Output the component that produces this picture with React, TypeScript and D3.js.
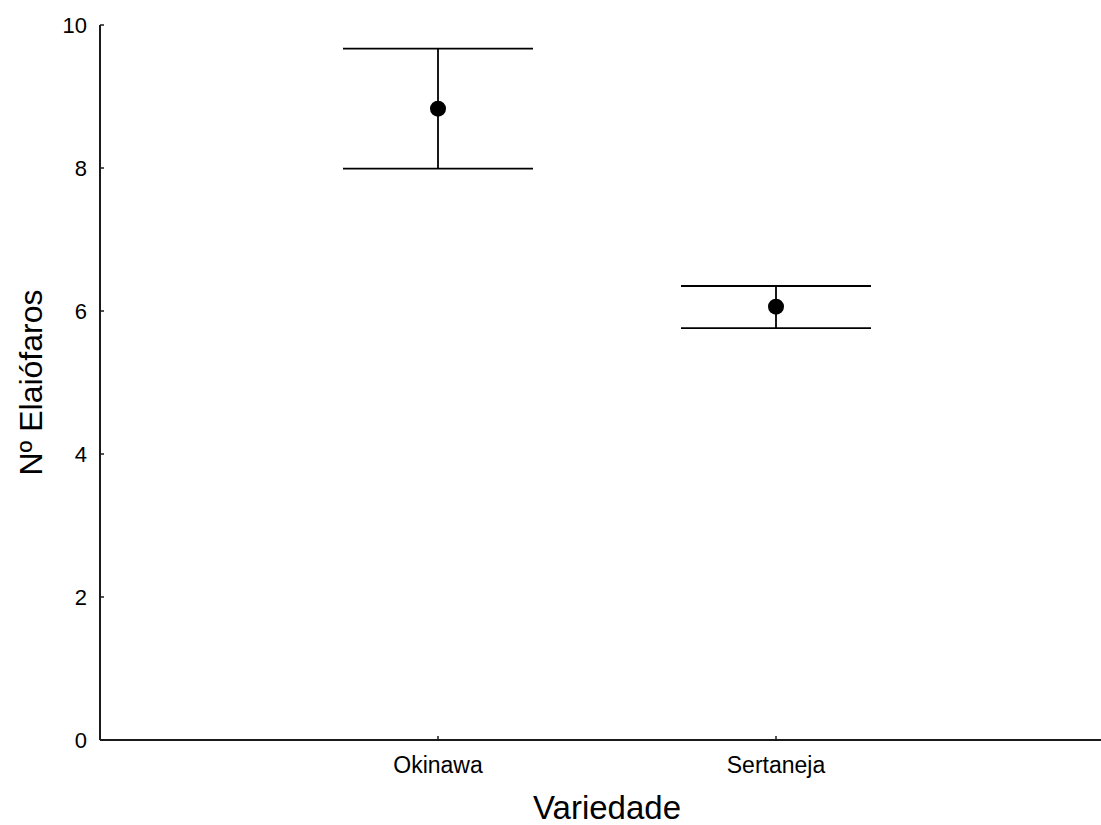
import React from "react";
import * as d3 from "d3";

const categories = ["Okinawa", "Sertaneja"];
const means = [8.83, 6.06];
const upper = [9.67, 6.35];
const lower = [7.99, 5.76];
const yTicks = [0, 2, 4, 6, 8, 10];
const xTitle = "Variedade";
const yTitle = "Nº Elaiófaros";

const W = 1101;
const H = 825;
const left = 100;
const right = 1114;
const top = 25;
const bottom = 740;

export default function App() {
  const x = d3.scalePoint<string>().domain(categories).range([left, right]).padding(1);
  const y = d3.scaleLinear().domain([0, 10]).range([bottom, top]);
  const cap = 95;
  const font = "'Liberation Sans', Arial, sans-serif";
  return (
    <svg width={W} height={H} style={{ position: "absolute", left: 0, top: 0, background: "#fff" }}>
      <rect x={0} y={0} width={W} height={H} fill="#fff" />
      {/* axes */}
      <line x1={left} x2={right} y1={bottom} y2={bottom} stroke="#1a1a1a" strokeWidth={2} />
      <line x1={left} x2={left} y1={top} y2={bottom} stroke="#1a1a1a" strokeWidth={2} />
      {yTicks.map((t) => (
        <g key={t}>
          <line x1={left} x2={left + 4} y1={y(t)} y2={y(t)} stroke="#1a1a1a" strokeWidth={1.5} />
          <text
            x={87}
            y={y(t)}
            dy="0.36em"
            textAnchor="end"
            fontFamily={font}
            fontSize={22}
            fill="#000"
          >
            {t}
          </text>
        </g>
      ))}
      {categories.map((c) => (
        <g key={c}>
          <line x1={x(c)} x2={x(c)} y1={bottom} y2={bottom - 4} stroke="#1a1a1a" strokeWidth={1.5} />
          <text x={x(c)} y={773} textAnchor="middle" fontFamily={font} fontSize={23} fill="#000">
            {c}
          </text>
        </g>
      ))}
      <text x={(left + right) / 2} y={819} textAnchor="middle" fontFamily={font} fontSize={33} fill="#000">
        {xTitle}
      </text>
      <text
        transform={`translate(42,${(top + bottom) / 2}) rotate(-90)`}
        textAnchor="middle"
        fontFamily={font}
        fontSize={32}
        fill="#000"
      >
        {yTitle}
      </text>
      {/* error bars */}
      {categories.map((c, i) => {
        const cx = x(c) as number;
        return (
          <g key={c}>
            <line x1={cx} x2={cx} y1={y(upper[i])} y2={y(lower[i])} stroke="#000" strokeWidth={1.8} />
            <line x1={cx - cap} x2={cx + cap} y1={y(upper[i])} y2={y(upper[i])} stroke="#000" strokeWidth={1.8} />
            <line x1={cx - cap} x2={cx + cap} y1={y(lower[i])} y2={y(lower[i])} stroke="#000" strokeWidth={1.8} />
            <circle cx={cx} cy={y(means[i])} r={8} fill="#000" />
          </g>
        );
      })}
    </svg>
  );
}
